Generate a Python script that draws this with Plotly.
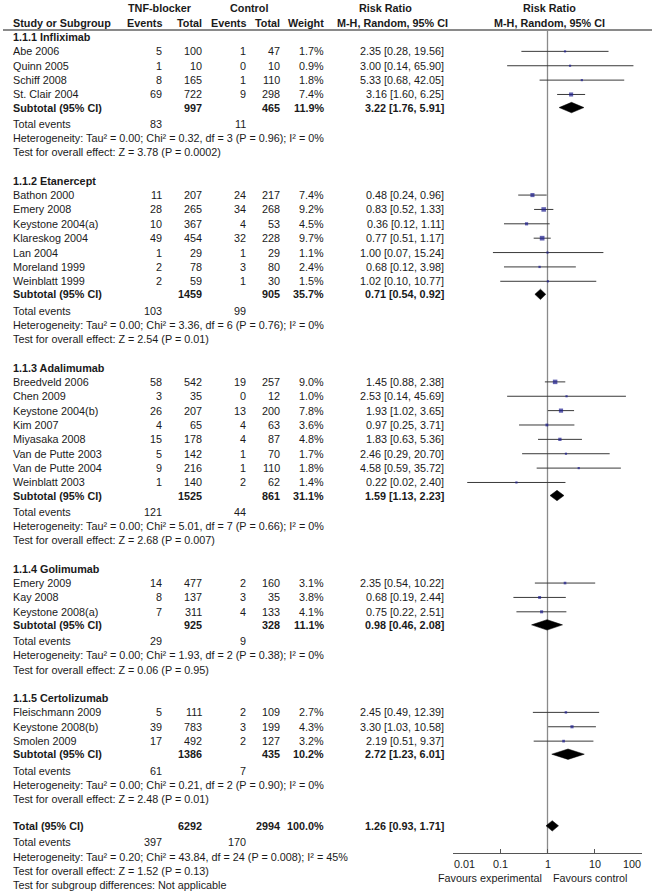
import math
import plotly.graph_objects as go

W, H = 656, 893

# ---------------- data ----------------
group_names = ["1.1.1 Infliximab", "1.1.2 Etanercept", "1.1.3 Adalimumab",
               "1.1.4 Golimumab", "1.1.5 Certolizumab"]

study = ["Abe 2006", "Quinn 2005", "Schiff 2008", "St. Clair 2004",
         "Bathon 2000", "Emery 2008", "Keystone 2004(a)", "Klareskog 2004", "Lan 2004",
         "Moreland 1999", "Weinblatt 1999",
         "Breedveld 2006", "Chen 2009", "Keystone 2004(b)", "Kim 2007", "Miyasaka 2008",
         "Van de Putte 2003", "Van de Putte 2004", "Weinblatt 2003",
         "Emery 2009", "Kay 2008", "Keystone 2008(a)",
         "Fleischmann 2009", "Keystone 2008(b)", "Smolen 2009"]
study_group = [0]*4 + [1]*7 + [2]*8 + [3]*3 + [4]*3
tnf_events = [5, 1, 8, 69, 11, 28, 10, 49, 1, 2, 2, 58, 3, 26, 4, 15, 5, 9, 1, 14, 8, 7, 5, 39, 17]
tnf_total = [100, 10, 165, 722, 207, 265, 367, 454, 29, 78, 59, 542, 35, 207, 65, 178, 142, 216, 140,
             477, 137, 311, 111, 783, 492]
ctl_events = [1, 0, 1, 9, 24, 34, 4, 32, 1, 3, 1, 19, 0, 13, 4, 4, 1, 1, 2, 2, 3, 4, 2, 3, 2]
ctl_total = [47, 10, 110, 298, 217, 268, 53, 228, 29, 80, 30, 257, 12, 200, 63, 87, 70, 110, 62,
             160, 35, 133, 109, 199, 127]
weight = [1.7, 0.9, 1.8, 7.4, 7.4, 9.2, 4.5, 9.7, 1.1, 2.4, 1.5, 9.0, 1.0, 7.8, 3.6, 4.8, 1.7, 1.8, 1.4,
          3.1, 3.8, 4.1, 2.7, 4.3, 3.2]
rr = [2.35, 3.00, 5.33, 3.16, 0.48, 0.83, 0.36, 0.77, 1.00, 0.68, 1.02, 1.45, 2.53, 1.93, 0.97, 1.83,
      2.46, 4.58, 0.22, 2.35, 0.68, 0.75, 2.45, 3.30, 2.19]
ci_lo = [0.28, 0.14, 0.68, 1.60, 0.24, 0.52, 0.12, 0.51, 0.07, 0.12, 0.10, 0.88, 0.14, 1.02, 0.25, 0.63,
         0.29, 0.59, 0.02, 0.54, 0.19, 0.22, 0.49, 1.03, 0.51]
ci_hi = [19.56, 65.90, 42.05, 6.25, 0.96, 1.33, 1.11, 1.17, 15.24, 3.98, 10.77, 2.38, 45.69, 3.65, 3.71,
         5.36, 20.70, 35.72, 2.40, 10.22, 2.44, 2.51, 12.39, 10.58, 9.37]

sub_tnf_total = [997, 1459, 1525, 925, 1386]
sub_ctl_total = [465, 905, 861, 328, 435]
sub_weight = [11.9, 35.7, 31.1, 11.1, 10.2]
sub_rr = [3.22, 0.71, 1.59, 0.98, 2.72]
sub_lo = [1.76, 0.54, 1.13, 0.46, 1.23]
sub_hi = [5.91, 0.92, 2.23, 2.08, 6.01]
sub_tnf_events = [83, 103, 121, 29, 61]
sub_ctl_events = [11, 99, 44, 9, 7]
sub_tau2 = ["0.00", "0.00", "0.00", "0.00", "0.00"]
sub_chi2 = ["0.32", "3.36", "5.01", "1.93", "0.21"]
sub_df = [3, 6, 7, 2, 2]
sub_het_p = ["0.96", "0.76", "0.66", "0.38", "0.90"]
sub_i2 = [0, 0, 0, 0, 0]
sub_z = ["3.78", "2.54", "2.68", "0.06", "2.48"]
sub_z_p = ["0.0002", "0.01", "0.007", "0.95", "0.01"]

tot_tnf_total = 6292
tot_ctl_total = 2994
tot_weight = 100.0
tot_rr, tot_lo, tot_hi = 1.26, 0.93, 1.71
tot_tnf_events = 397
tot_ctl_events = 170
tot_tau2, tot_chi2, tot_df, tot_het_p, tot_i2 = "0.20", "43.84", 24, "0.008", 45
tot_z, tot_z_p = "1.52", "0.13"
subgroup_test = "Test for subgroup differences: Not applicable"

tick_vals = [0.01, 0.1, 1, 10, 100]
tick_text = ["0.01", "0.1", "1", "10", "100"]
favours_left = "Favours experimental"
favours_right = "Favours control"

# ---------------- layout constants ----------------
FONT = "Liberation Sans, Arial, sans-serif"
FS = 10.8
TXT = "#1a1a1a"
ROW0, ROWH = 37.0, 14.37
X_NAME, X_TEV, X_TN, X_CEV, X_CN, X_WT, X_RR = 12, 163, 203, 247, 281, 325, 445
AX_L, AX_R = 453, 642
AX_Y = 853

ann = []


def txt(x, y, s, anchor="right", bold=False, size=FS, xref="x"):
    ann.append(dict(x=x, y=y, xref=xref, yref="y", text=("<b>%s</b>" % s) if bold else s,
                    showarrow=False, xanchor=anchor, yanchor="middle", borderpad=0,
                    font=dict(family=FONT, size=size, color=TXT)))


def fmt_rr(a, b, c):
    return "%.2f [%.2f, %.2f]" % (a, b, c)


# header
txt(160, 8.3, "TNF-blocker", "center", True)
txt(249, 8.3, "Control", "center", True)
txt(385, 8.3, "Risk Ratio", "center", True)
txt(549, 8.3, "Risk Ratio", "center", True)
txt(X_NAME, 23.3, "Study or Subgroup", "left", True)
txt(X_TEV, 23.3, "Events", "right", True)
txt(X_TN, 23.3, "Total", "right", True)
txt(X_CEV, 23.3, "Events", "right", True)
txt(X_CN, 23.3, "Total", "right", True)
txt(X_WT, 23.3, "Weight", "right", True)
txt(X_RR + 4, 23.3, "M-H, Random, 95% CI", "right", True)
txt(549, 23.3, "M-H, Random, 95% CI", "center", True)

row = 0
st_y = []
sub_y = []


def ypos(r, off=0.0):
    return ROW0 + r * ROWH + off


for g, gname in enumerate(group_names):
    txt(X_NAME, ypos(row), gname, "left", True)
    row += 1
    for i in range(len(study)):
        if study_group[i] != g:
            continue
        y = ypos(row)
        st_y.append(y)
        txt(X_NAME, y, study[i], "left")
        txt(X_TEV, y, str(tnf_events[i]))
        txt(X_TN, y, str(tnf_total[i]))
        txt(X_CEV, y, str(ctl_events[i]))
        txt(X_CN, y, str(ctl_total[i]))
        txt(X_WT, y, "%.1f%%" % weight[i])
        txt(X_RR, y, fmt_rr(rr[i], ci_lo[i], ci_hi[i]))
        row += 1
    y = ypos(row, -1.3)
    sub_y.append(y)
    txt(X_NAME, y, "Subtotal (95% CI)", "left", True)
    txt(X_TN, y, str(sub_tnf_total[g]), bold=True)
    txt(X_CN, y, str(sub_ctl_total[g]), bold=True)
    txt(X_WT, y, "%.1f%%" % sub_weight[g], bold=True)
    txt(X_RR, y, fmt_rr(sub_rr[g], sub_lo[g], sub_hi[g]), bold=True)
    row += 1
    y = ypos(row, 0.8)
    txt(X_NAME, y, "Total events", "left")
    txt(X_TEV, y, str(sub_tnf_events[g]))
    txt(X_CEV, y, str(sub_ctl_events[g]))
    row += 1
    txt(X_NAME, ypos(row, 0.5),
        "Heterogeneity: Tau² = %s; Chi² = %s, df = %d (P = %s); I² = %d%%"
        % (sub_tau2[g], sub_chi2[g], sub_df[g], sub_het_p[g], sub_i2[g]), "left")
    row += 1
    txt(X_NAME, ypos(row, 0.5), "Test for overall effect: Z = %s (P = %s)" % (sub_z[g], sub_z_p[g]), "left")
    row += 2

y_tot = ypos(row, -1.5)
txt(X_NAME, y_tot, "Total (95% CI)", "left", True)
txt(X_TN, y_tot, str(tot_tnf_total), bold=True)
txt(X_CN, y_tot, str(tot_ctl_total), bold=True)
txt(X_WT, y_tot, "%.1f%%" % tot_weight, bold=True)
txt(X_RR, y_tot, fmt_rr(tot_rr, tot_lo, tot_hi), bold=True)
row += 1
y = ypos(row, 0.5)
txt(X_NAME, y, "Total events", "left")
txt(X_TEV, y, str(tot_tnf_events))
txt(X_CEV, y, str(tot_ctl_events))
row += 1
txt(X_NAME, ypos(row, 0.5),
    "Heterogeneity: Tau² = %s; Chi² = %s, df = %d (P = %s); I² = %d%%"
    % (tot_tau2, tot_chi2, tot_df, tot_het_p, tot_i2), "left")
row += 1
txt(X_NAME, ypos(row, 0.5), "Test for overall effect: Z = %s (P = %s)" % (tot_z, tot_z_p), "left")
row += 1
txt(X_NAME, ypos(row, 0.5), subgroup_test, "left")

# axis tick labels (end labels kept inside the axis span, as in the original)
for k, (tv, tt) in enumerate(zip(tick_vals, tick_text)):
    anchor = "left" if k == 0 else ("right" if k == len(tick_vals) - 1 else "center")
    txt(math.log10(tv), 863.5, tt, anchor, xref="x2")

txt(490, 877.5, favours_left, "center")
txt(590, 877.5, favours_right, "center")

fig = go.Figure()

# CI lines
lx, ly = [], []
for i in range(len(study)):
    lx += [ci_lo[i], ci_hi[i], None]
    ly += [st_y[i], st_y[i], None]
fig.add_trace(go.Scatter(x=lx, y=ly, xaxis="x2", yaxis="y", mode="lines",
                         line=dict(color="#3a3a3a", width=1), hoverinfo="skip", showlegend=False))
# study squares
fig.add_trace(go.Scatter(x=rr, y=st_y, xaxis="x2", yaxis="y", mode="markers",
                         marker=dict(symbol="square", color="#1c1c8f",
                                     size=[max(2.2, 1.5 * w ** 0.5) for w in weight],
                                     line=dict(width=0)),
                         hoverinfo="skip", showlegend=False))
# diamonds
HALF = 5.2
for g in range(len(group_names)):
    y = sub_y[g]
    fig.add_trace(go.Scatter(x=[sub_lo[g], sub_rr[g], sub_hi[g], sub_rr[g], sub_lo[g]],
                             y=[y, y - HALF, y, y + HALF, y], xaxis="x2", yaxis="y",
                             mode="lines", fill="toself", fillcolor="black",
                             line=dict(color="black", width=0.5), hoverinfo="skip", showlegend=False))
fig.add_trace(go.Scatter(x=[tot_lo, tot_rr, tot_hi, tot_rr, tot_lo],
                         y=[y_tot, y_tot - HALF, y_tot, y_tot + HALF, y_tot], xaxis="x2", yaxis="y",
                         mode="lines", fill="toself", fillcolor="black",
                         line=dict(color="black", width=0.5), hoverinfo="skip", showlegend=False))

shapes = [
    dict(type="line", xref="x", yref="y", x0=3, x1=652, y0=30, y1=30,
         line=dict(color="#8a8a8a", width=2)),
    dict(type="line", xref="x2", yref="y", x0=1, x1=1, y0=30, y1=AX_Y,
         line=dict(color="#8a8a8a", width=1.3), layer="below"),
]

fig.update_layout(
    width=W, height=H, margin=dict(l=0, r=0, t=0, b=0, pad=0, autoexpand=False),
    paper_bgcolor="white", plot_bgcolor="rgba(0,0,0,0)",
    showlegend=False,
    xaxis=dict(range=[0, W], domain=[0, 1], visible=False, fixedrange=True, automargin=False),
    yaxis=dict(range=[H, 0], domain=[0, 1], visible=False, fixedrange=True, automargin=False),
    xaxis2=dict(type="log", range=[-2, 2], domain=[AX_L / W, AX_R / W], anchor="free",
                position=(H - AX_Y) / H, showline=True, linecolor="#555555",
                linewidth=1, ticks="inside", ticklen=4, tickcolor="#555555", tickwidth=1,
                tickvals=tick_vals, showticklabels=False, showgrid=False, zeroline=False,
                automargin=False, fixedrange=True),
    annotations=ann,
    shapes=shapes,
)

fig.write_html("out.html", config={"displayModeBar": False},
               post_script="document.body.style.margin='0';document.body.style.overflow='hidden';")
